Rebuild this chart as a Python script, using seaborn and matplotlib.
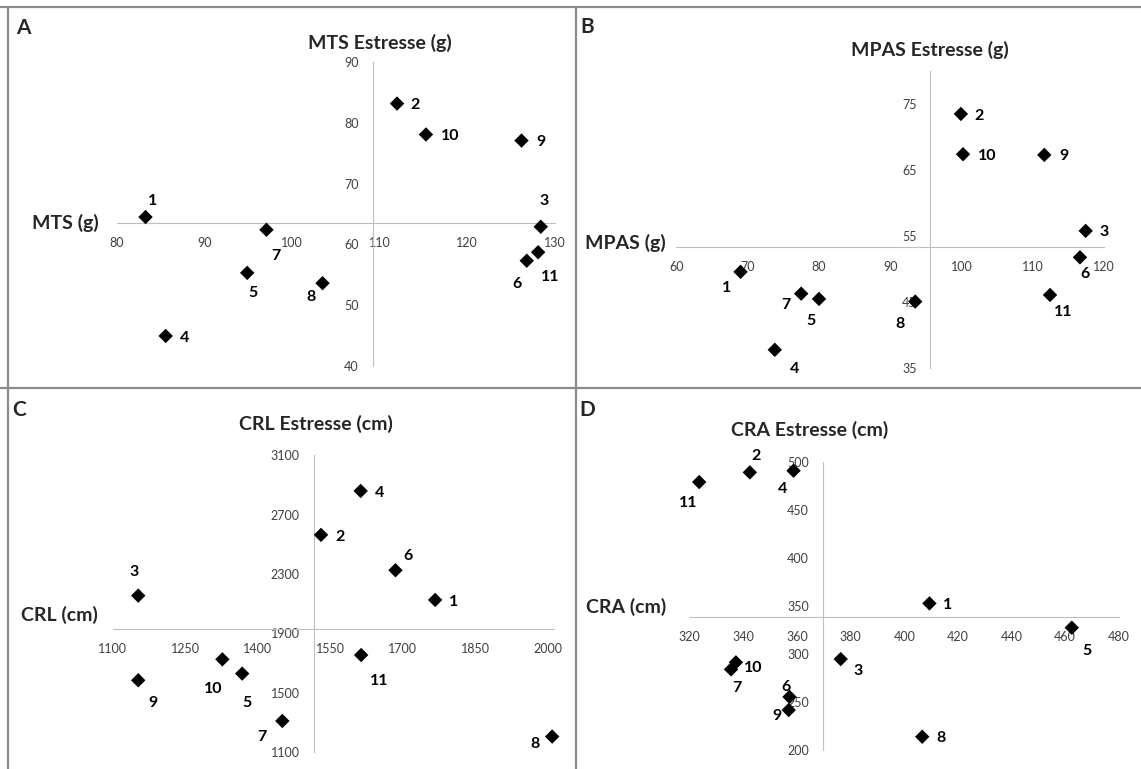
import numpy as np
import pandas as pd
import matplotlib
matplotlib.use("Agg")
import matplotlib.pyplot as plt
from matplotlib.lines import Line2D
import seaborn as sns

# ---------------- data ----------------
point_labels = ["1", "2", "3", "4", "5", "6", "7", "8", "9", "10", "11"]

mts_x = [83.3, 112.0, 128.4, 85.6, 94.9, 126.8, 97.1, 103.5, 126.2, 115.3, 128.1]
mts_y = [64.5, 83.2, 62.9, 44.9, 55.3, 57.3, 62.4, 53.6, 77.1, 78.1, 58.7]

mpas_x = [69.0, 99.9, 117.4, 73.8, 80.0, 116.6, 77.5, 93.5, 111.6, 100.2, 112.4]
mpas_y = [49.6, 73.5, 55.8, 37.8, 45.5, 51.8, 46.3, 45.1, 67.3, 67.4, 46.1]

crl_x = [1767, 1531, 1153, 1613, 1368, 1685, 1451, 2009, 1153, 1327, 1614]
crl_y = [2126, 2564, 2155, 2860, 1630, 2326, 1311, 1206, 1585, 1726, 1755]

cra_x = [409.4, 342.4, 376.3, 358.7, 462.5, 357.2, 335.4, 406.7, 356.9, 337.2, 323.5]
cra_y = [352.4, 488.9, 294.4, 490.6, 327.1, 255.0, 283.7, 213.5, 241.3, 291.0, 478.8]

mts_xticks = [80, 90, 100, 110, 120, 130]
mts_yticks = [40, 50, 60, 70, 80, 90]
mpas_xticks = [60, 70, 80, 90, 100, 110, 120]
mpas_yticks = [35, 45, 55, 65, 75]
crl_xticks = [1100, 1250, 1400, 1550, 1700, 1850, 2000]
crl_yticks = [1100, 1500, 1900, 2300, 2700, 3100]
cra_xticks = [320, 340, 360, 380, 400, 420, 440, 460, 480]
cra_yticks = [200, 250, 300, 350, 400, 450, 500]

# ---------------- style ----------------
sns.set_style("white")
plt.rcParams["font.family"] = ["Lato", "DejaVu Sans"]

W, H = 1141, 769
fig = plt.figure(figsize=(W / 100, H / 100), dpi=100)
fig.patch.set_facecolor("white")

AXIS_COLOR = "#bfbfbf"
TICK_TEXT = "#404040"


def fx(px):
    return px / W


def fy(py):
    return 1 - py / H


def make_axes(pl, pr, pt, pb):
    ax = fig.add_axes([fx(pl), fy(pb), (pr - pl) / W, (pb - pt) / H])
    ax.patch.set_visible(False)
    return ax


panels = [
    dict(x=mts_x, y=mts_y, xlim=(80, 130), ylim=(40, 90), xt=mts_xticks, yt=mts_yticks,
         rect=(116.6, 554.8, 62.3, 365.7),
         offs=[(6.6, -15.7), (18.3, 1.7), (3.7, -25.7), (19.1, 2.3), (5.5, 19.7), (-9.9, 23.3),
               (9.5, 26.7), (-11.7, 13.7), (19.4, 1.3), (23.8, 1.3), (12.1, 24.3)],
         letter=("A", 23, 28.5), xtitle=("MTS (g)", 65.6, 223), ytitle=("MTS Estresse (g)", 380, 43.3)),
    dict(x=mpas_x, y=mpas_y, xlim=(60, 120), ylim=(35, 80), xt=mpas_xticks, yt=mpas_yticks,
         rect=(676.4, 1104.2, 71.0, 368.3),
         offs=[(-14.4, 15.7), (18.4, 1.7), (18.4, 1.0), (19.5, 18.7), (-7.6, 21.7), (5.4, 17.0),
               (-15.2, 11.7), (-15.5, 22.3), (19.9, 0.7), (24.5, 1.3), (13.4, 16.7)],
         letter=("B", 587.6, 26.7), xtitle=("MPAS (g)", 625.5, 243.3), ytitle=("MPAS Estresse (g)", 930, 50)),
    dict(x=crl_x, y=crl_y, xlim=(1100, 2012), ylim=(1100, 3100), xt=crl_xticks, yt=crl_yticks,
         rect=(112.6, 553.6, 455.3, 752.3),
         offs=[(18.7, 1.7), (19.1, 1.7), (-3.7, -23.3), (19.1, 1.7), (4.4, 29.0), (12.8, -14.3),
               (-20.9, 15.7), (-16.9, 7.0), (15.0, 22.3), (-8.8, 29.7), (17.6, 26.3)],
         letter=("C", 19.6, 410), xtitle=("CRL (cm)", 59.6, 615), ytitle=("CRL Estresse (cm)", 316.3, 424)),
    dict(x=cra_x, y=cra_y, xlim=(320, 480), ylim=(200, 500), xt=cra_xticks, yt=cra_yticks,
         rect=(689.8, 1118.7, 461.7, 749.7),
         offs=[(18.4, 1.7), (5.8, -16.3), (17.3, 11.7), (-10.8, 18.3), (15.2, 23.3), (-4.0, -10.3),
               (5.4, 19.0), (18.8, 1.7), (-11.6, 5.7), (17.0, 6.0), (-11.2, 21.3)],
         letter=("D", 587.6, 410), xtitle=("CRA (cm)", 626.1, 606.7), ytitle=("CRA Estresse (cm)", 809.3, 430)),
]

for p in panels:
    ax = make_axes(*p["rect"])
    df = pd.DataFrame({"x": p["x"], "y": p["y"], "lab": point_labels})
    sns.scatterplot(data=df, x="x", y="y", ax=ax, marker="D", s=54, color="black",
                    edgecolor="none", linewidth=0, clip_on=False, zorder=4, legend=False)
    for _, r in df.iterrows():
        dx, dy = p["offs"][int(r["lab"]) - 1]
        ax.annotate(r["lab"], (r["x"], r["y"]), xytext=(dx, -dy), textcoords="offset pixels",
                    ha="center", va="center", fontsize=11.5, fontweight="bold", color="black",
                    annotation_clip=False, zorder=5)
    ax.set_xlim(*p["xlim"])
    ax.set_ylim(*p["ylim"])
    ax.set_xticks(p["xt"])
    ax.set_yticks(p["yt"])
    ax.set_xlabel("")
    ax.set_ylabel("")
    ax.spines["top"].set_visible(False)
    ax.spines["right"].set_visible(False)
    ax.spines["left"].set_position(("data", float(np.mean(p["x"]))))
    ax.spines["bottom"].set_position(("data", float(np.mean(p["y"]))))
    for s in ("left", "bottom"):
        ax.spines[s].set_color(AXIS_COLOR)
        ax.spines[s].set_linewidth(0.8)
    ax.tick_params(axis="both", direction="out", length=3, width=0.8, color=AXIS_COLOR,
                   labelcolor=TICK_TEXT, labelsize=9, pad=7)
    ax.grid(False)

    t, x0, y0 = p["letter"]
    fig.text(fx(x0), fy(y0), t, ha="center", va="center", fontsize=15, fontweight="bold")
    t, x0, y0 = p["xtitle"]
    fig.text(fx(x0), fy(y0), t, ha="center", va="center", fontsize=14, fontweight="bold")
    t, x0, y0 = p["ytitle"]
    fig.text(fx(x0), fy(y0), t, ha="center", va="center", fontsize=14, fontweight="bold")

# panel frame lines
BORDER = "#8c8c8c"
fig.add_artist(Line2D([0, 1], [fy(6.5), fy(6.5)], transform=fig.transFigure, color=BORDER, lw=1.6))
fig.add_artist(Line2D([0, 1], [fy(388.3), fy(388.3)], transform=fig.transFigure, color=BORDER, lw=1.6))
fig.add_artist(Line2D([fx(8.3), fx(8.3)], [0, fy(6.5)], transform=fig.transFigure, color=BORDER, lw=1.6))
fig.add_artist(Line2D([fx(575.7), fx(575.7)], [0, fy(6.5)], transform=fig.transFigure, color=BORDER, lw=1.6))

fig.savefig("out.png", dpi=100, facecolor="white")
